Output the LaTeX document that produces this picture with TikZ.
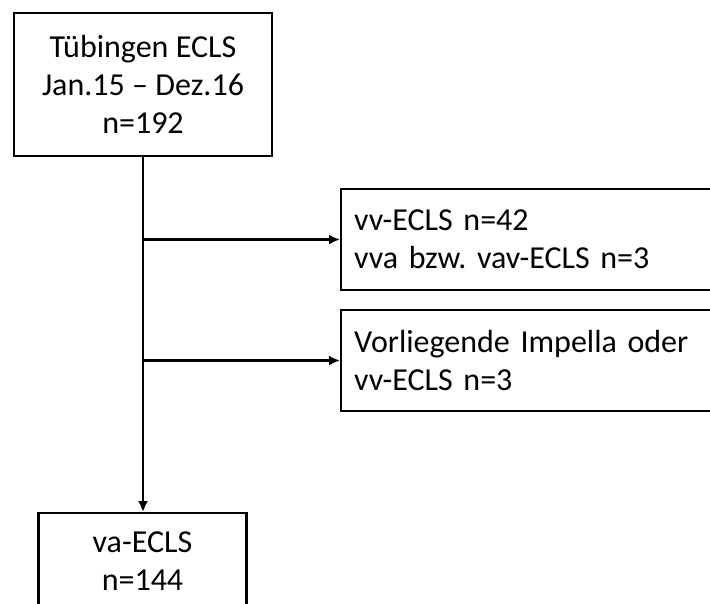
\documentclass[tikz,border=0pt]{standalone}
\usepackage{fontspec}
\setmainfont{Carlito}
\usetikzlibrary{arrows.meta}

\newcommand{\boxfont}{\fontsize{32}{38}\selectfont\frenchspacing\spaceskip 0.23em\relax}

\begin{document}
\begin{tikzpicture}[
    x=1pt, y=-1pt,
    box/.style={draw, rectangle, line width=2.4pt, inner sep=0pt, font=\boxfont},
    sidebox/.style={box, anchor=west, minimum width=420, minimum height=101,
        text width=394, align=left},
    flow/.style={line width=2.4pt, -{Latex[length=11pt,width=10pt]}}
]
    % page frame, boxes run over the edge
    \useasboundingbox (0,0) rectangle (710,603);
    \clip (0,0) rectangle (710,603);

    % Main cohort
    \node[box, minimum width=258, minimum height=143, align=center] (total)
        at (143,84.5) {Tübingen ECLS\\Jan.15 – Dez.16\\n=192};

    % Excluded
    \node[sidebox] (exclA) at (340,239.5) {vv-ECLS n=42\\vva bzw. vav-ECLS n=3};
    \node[sidebox] (exclB) at (340,360.5) {Vorliegende Impella oder\\vv-ECLS n=3};

    % Final cohort
    \node[box, anchor=north, minimum width=208, minimum height=96, align=center] (vaecls)
        at (142.5,512) {va-ECLS\\n=144};

    % Connectors
    \draw[flow] (total.south) -- (total.south |- vaecls.north);
    \draw[flow] (total.south |- exclA.west) -- (exclA.west);
    \draw[flow] (total.south |- exclB.west) -- (exclB.west);

\end{tikzpicture}
\end{document}
